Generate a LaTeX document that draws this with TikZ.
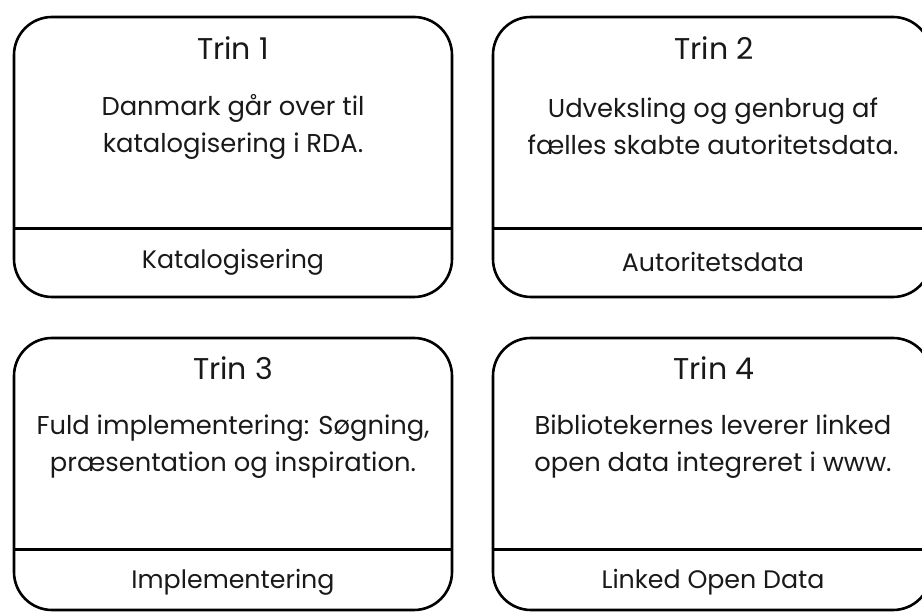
\documentclass[tikz,border=0pt]{standalone}
\usepackage{fontspec}
\setmainfont{Poppins}
\begin{document}
\begin{tikzpicture}[x=1pt,y=1pt,
  card/.style={draw, line width=2.6pt, rounded corners=38pt, minimum width=438pt, minimum height=#1, inner sep=0pt},
  title/.style={font=\fontsize{30}{36}\selectfont, text=black!90},
  body/.style={font=\fontsize{25.8}{37}\selectfont, align=center, text=black!90},
  lbl/.style={font=\fontsize{25.3}{30}\selectfont, text=black!90},
  divider/.style={line width=2.6pt}]
\useasboundingbox (0,0) rectangle (922,612);
\clip (0,0) rectangle (922,612);
% cards
\node[card=280pt] (c1) at (233,455) {};
\node[card=280pt] (c2) at (712,455) {};
\node[card=272pt] (c3) at (233,138) {};
\node[card=272pt] (c4) at (712,138) {};
% dividers
\draw[divider] ([yshift=70pt]c1.south west) -- ([yshift=70pt]c1.south east);
\draw[divider] ([yshift=70pt]c2.south west) -- ([yshift=70pt]c2.south east);
\draw[divider] ([yshift=62pt]c3.south west) -- ([yshift=62pt]c3.south east);
\draw[divider] ([yshift=62pt]c4.south west) -- ([yshift=62pt]c4.south east);
% texts card 1
\node[title] (t1) at (233,564) {Trin 1};
\node[body] (b1) at (233,485.5) {Danmark går over til\\katalogisering i RDA.};
\node[lbl] (l1) at (233,350) {Katalogisering};
% card 2
\node[title] (t2) at (714,564) {Trin 2};
\node[body] (b2) at (713,485.5) {Udveksling og genbrug af\\fælles skabte autoritetsdata.};
\node[lbl] (l2) at (713,350) {Autoritetsdata};
% card 3
\node[title] (t3) at (233,244) {Trin 3};
\node[body] (b3) at (233,165.5) {Fuld implementering: Søgning,\\præsentation og inspiration.};
\node[lbl] (l3) at (233,30) {Implementering};
% card 4
\node[title] (t4) at (714,244) {Trin 4};
\node[body] (b4) at (713,165.5) {Bibliotekernes leverer linked\\open data integreret i www.};
\node[lbl] (l4) at (713,30) {Linked Open Data};
\end{tikzpicture}
\end{document}
